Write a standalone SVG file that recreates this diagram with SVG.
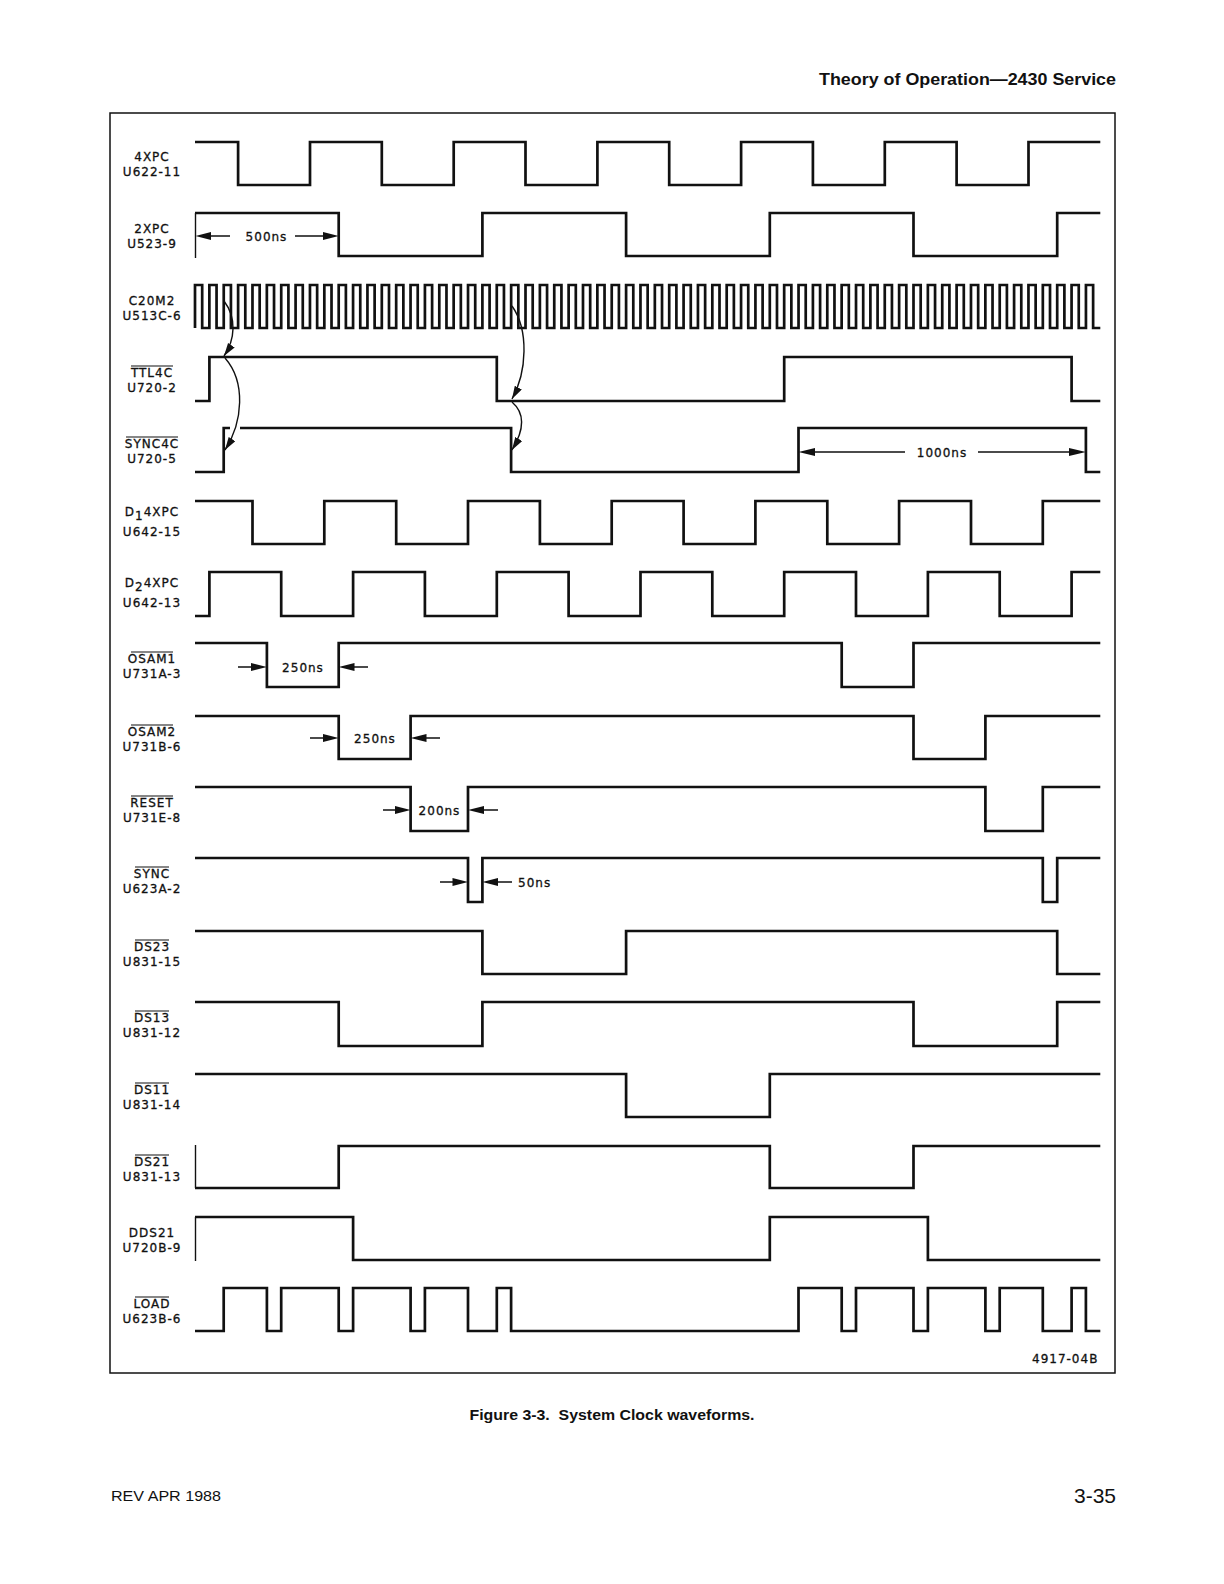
<svg xmlns="http://www.w3.org/2000/svg" width="1224" height="1584" viewBox="0 0 1224 1584">
<style>
.lbl{font-family:"DejaVu Sans","Liberation Sans",sans-serif;font-size:12px;letter-spacing:1px;fill:#111;stroke:#111;stroke-width:0.3;text-anchor:middle}
.dim{font-family:"DejaVu Sans","Liberation Sans",sans-serif;font-size:12px;letter-spacing:1px;fill:#111;stroke:#111;stroke-width:0.3}
.w{fill:none;stroke:#111;stroke-width:2.7;stroke-linejoin:miter;stroke-linecap:butt}
.thin{fill:none;stroke:#111;stroke-width:1.4}
.bar{stroke:#111;stroke-width:1.2}
.ah{fill:#111}
.hdr{font-family:"Liberation Sans",Arial,sans-serif;font-weight:bold;fill:#111}
.ftr{font-family:"Liberation Sans",Arial,sans-serif;fill:#111}
</style>
<defs>
<marker id="curveHead" markerUnits="userSpaceOnUse" markerWidth="14" markerHeight="10" refX="13" refY="4" orient="auto">
<path d="M0,0 L13,4 L0,8 z" fill="#111"/>
</marker>
</defs>
<rect width="1224" height="1584" fill="#fff"/>
<text class="hdr" x="1116" y="85" font-size="17" text-anchor="end" textLength="297" lengthAdjust="spacingAndGlyphs">Theory of Operation—2430 Service</text>
<rect id="frame" x="110" y="113" width="1005" height="1260" fill="none" stroke="#111" stroke-width="1.5"/>

<g id="sig-4XPC">
<text class="lbl" x="152" y="161">4XPC</text><text class="lbl" x="152" y="176">U622-11</text>
<path class="w" d="M195,142 H238.1 V185 H310 V142 H381.8 V185 H453.7 V142 H525.5 V185 H597.4 V142 H669.2 V185 H741.1 V142 H812.9 V185 H884.8 V142 H956.6 V185 H1028.5 V142 H1100.3"/>
</g>
<g id="sig-2XPC">
<text class="lbl" x="152" y="233">2XPC</text><text class="lbl" x="152" y="248">U523-9</text>
<path class="w" d="M195,213 H338.7 V256 H482.4 V213 H626.1 V256 H769.8 V213 H913.5 V256 H1057.2 V213 H1100.3"/>
<path class="thin" d="M195.5,213 V258"/>
</g>
<g id="sig-C20M2">
<text class="lbl" x="152" y="305">C20M2</text><text class="lbl" x="152" y="320">U513C-6</text>
<path class="w" stroke-width="2" d="M195,328
v-43h7.185v43h7.185 v-43h7.185v43h7.185 v-43h7.185v43h7.185 v-43h7.185v43h7.185 v-43h7.185v43h7.185 v-43h7.185v43h7.185 v-43h7.185v43h7.185 v-43h7.185v43h7.185 v-43h7.185v43h7.185
v-43h7.185v43h7.185 v-43h7.185v43h7.185 v-43h7.185v43h7.185 v-43h7.185v43h7.185 v-43h7.185v43h7.185 v-43h7.185v43h7.185 v-43h7.185v43h7.185 v-43h7.185v43h7.185 v-43h7.185v43h7.185
v-43h7.185v43h7.185 v-43h7.185v43h7.185 v-43h7.185v43h7.185 v-43h7.185v43h7.185 v-43h7.185v43h7.185 v-43h7.185v43h7.185 v-43h7.185v43h7.185 v-43h7.185v43h7.185 v-43h7.185v43h7.185
v-43h7.185v43h7.185 v-43h7.185v43h7.185 v-43h7.185v43h7.185 v-43h7.185v43h7.185 v-43h7.185v43h7.185 v-43h7.185v43h7.185 v-43h7.185v43h7.185 v-43h7.185v43h7.185 v-43h7.185v43h7.185
v-43h7.185v43h7.185 v-43h7.185v43h7.185 v-43h7.185v43h7.185 v-43h7.185v43h7.185 v-43h7.185v43h7.185 v-43h7.185v43h7.185 v-43h7.185v43h7.185 v-43h7.185v43h7.185 v-43h7.185v43h7.185
v-43h7.185v43h7.185 v-43h7.185v43h7.185 v-43h7.185v43h7.185 v-43h7.185v43h7.185 v-43h7.185v43h7.185 v-43h7.185v43h7.185 v-43h7.185v43h7.185 v-43h7.185v43h7.185 v-43h7.185v43h7.185
v-43h7.185v43h7.185 v-43h7.185v43h7.185 v-43h7.185v43h7.185 v-43h7.185v43h7.185 v-43h7.185v43h7.185 v-43h7.185v43h7.185 v-43h7.185v43h7.185 v-43h7.185v43h7.185 v-43h7.185v43h7.185"/>
</g>
<g id="sig-TTL4C">
<line class="bar" x1="131" y1="366" x2="173" y2="366"/>
<text class="lbl" x="152" y="377">TTL4C</text><text class="lbl" x="152" y="391.5">U720-2</text>
<path class="w" d="M195,401 H209.4 V357 H496.8 V401 H784.2 V357 H1071.6 V401 H1100.3"/>
</g>
<g id="sig-SYNC4C">
<line class="bar" x1="126" y1="437" x2="178" y2="437"/>
<text class="lbl" x="152" y="448">SYNC4C</text><text class="lbl" x="152" y="462.5">U720-5</text>
<path class="w" d="M195,472 H223.7 V428 H230 M240,428 H511.1 V472 H798.5 V428 H1085.9 V472 H1100.3"/>
</g>
<g id="sig-D14XPC">
<text class="lbl" x="152" y="516">D<tspan dy="4">1</tspan><tspan dy="-4">4XPC</tspan></text><text class="lbl" x="152" y="535.5">U642-15</text>
<path class="w" d="M195,501 H252.5 V544 H324.3 V501 H396.2 V544 H468 V501 H539.9 V544 H611.7 V501 H683.6 V544 H755.4 V501 H827.3 V544 H899.1 V501 H971 V544 H1042.8 V501 H1100.3"/>
</g>
<g id="sig-D24XPC">
<text class="lbl" x="152" y="587">D<tspan dy="4">2</tspan><tspan dy="-4">4XPC</tspan></text><text class="lbl" x="152" y="606.5">U642-13</text>
<path class="w" d="M195,616 H209.4 V572 H281.2 V616 H353.1 V572 H424.9 V616 H496.8 V572 H568.6 V616 H640.5 V572 H712.3 V616 H784.2 V572 H856 V616 H927.9 V572 H999.7 V616 H1071.6 V572 H1100.3"/>
</g>
<g id="sig-OSAM1">
<line class="bar" x1="131" y1="652" x2="173" y2="652"/>
<text class="lbl" x="152" y="663">OSAM1</text><text class="lbl" x="152" y="677.5">U731A-3</text>
<path class="w" d="M195,643 H266.9 V687 H338.7 V643 H841.7 V687 H913.5 V643 H1100.3"/>
</g>
<g id="sig-OSAM2">
<line class="bar" x1="131" y1="725" x2="173" y2="725"/>
<text class="lbl" x="152" y="736">OSAM2</text><text class="lbl" x="152" y="750.5">U731B-6</text>
<path class="w" d="M195,716 H338.7 V759 H410.6 V716 H913.5 V759 H985.4 V716 H1100.3"/>
</g>
<g id="sig-RESET">
<line class="bar" x1="131" y1="796" x2="173" y2="796"/>
<text class="lbl" x="152" y="807">RESET</text><text class="lbl" x="152" y="821.5">U731E-8</text>
<path class="w" d="M195,787 H410.6 V831 H468 V787 H985.4 V831 H1042.8 V787 H1100.3"/>
</g>
<g id="sig-SYNC">
<line class="bar" x1="135" y1="867" x2="169" y2="867"/>
<text class="lbl" x="152" y="878">SYNC</text><text class="lbl" x="152" y="892.5">U623A-2</text>
<path class="w" d="M195,858 H468 V902 H482.4 V858 H1042.8 V902 H1057.2 V858 H1100.3"/>
</g>
<g id="sig-DS23">
<line class="bar" x1="135" y1="940" x2="169" y2="940"/>
<text class="lbl" x="152" y="951">DS23</text><text class="lbl" x="152" y="965.5">U831-15</text>
<path class="w" d="M195,931 H482.4 V974 H626.1 V931 H1057.2 V974 H1100.3"/>
</g>
<g id="sig-DS13">
<line class="bar" x1="135" y1="1011" x2="169" y2="1011"/>
<text class="lbl" x="152" y="1022">DS13</text><text class="lbl" x="152" y="1036.5">U831-12</text>
<path class="w" d="M195,1002 H338.7 V1046 H482.4 V1002 H913.5 V1046 H1057.2 V1002 H1100.3"/>
</g>
<g id="sig-DS11">
<line class="bar" x1="135" y1="1083" x2="169" y2="1083"/>
<text class="lbl" x="152" y="1094">DS11</text><text class="lbl" x="152" y="1108.5">U831-14</text>
<path class="w" d="M195,1074 H626.1 V1117 H769.8 V1074 H1100.3"/>
</g>
<g id="sig-DS21">
<line class="bar" x1="135" y1="1155" x2="169" y2="1155"/>
<text class="lbl" x="152" y="1166">DS21</text><text class="lbl" x="152" y="1180.5">U831-13</text>
<path class="thin" d="M195.5,1145 V1188"/>
<path class="w" d="M195,1188 H338.7 V1146 H769.8 V1188 H913.5 V1146 H1100.3"/>
</g>
<g id="sig-DDS21">
<text class="lbl" x="152" y="1237">DDS21</text><text class="lbl" x="152" y="1251.5">U720B-9</text>
<path class="thin" d="M195.5,1217 V1261"/>
<path class="w" d="M195,1217 H353.1 V1260 H769.8 V1217 H927.9 V1260 H1100.3"/>
</g>
<g id="sig-LOAD">
<line class="bar" x1="135" y1="1297" x2="169" y2="1297"/>
<text class="lbl" x="152" y="1308">LOAD</text><text class="lbl" x="152" y="1322.5">U623B-6</text>
<path class="w" d="M195,1331 H223.7 V1288 H266.9 V1331 H281.2 V1288 H338.7 V1331 H353.1 V1288 H410.6 V1331 H424.9 V1288 H468 V1331 H496.8 V1288 H511.1 V1331 H798.5 V1288 H841.7 V1331 H856 V1288 H913.5 V1331 H927.9 V1288 H985.4 V1331 H999.7 V1288 H1042.8 V1331 H1071.6 V1288 H1085.9 V1331 H1100.3"/>
</g>

<g id="connectors">
<path class="thin" d="M224,301 C237,318 235,340 224,356" marker-end="url(#curveHead)"/>
<path class="thin" d="M225,358 C246,382 243,422 225,450" marker-end="url(#curveHead)"/>
<path class="thin" d="M512,306 C529,330 527,372 512,399" marker-end="url(#curveHead)"/>
<path class="thin" d="M512,402 C526,414 523,432 512,450" marker-end="url(#curveHead)"/>

<g id="dim-500ns">
<path class="thin" d="M209,236 H230 M295,236 H324"/>
<polygon class="ah" points="195.5,236 211,232 211,240"/>
<polygon class="ah" points="338.7,236 323,232 323,240"/>
<text class="dim" x="266.5" y="240.5" text-anchor="middle">500ns</text>
</g>
<g id="dim-1000ns">
<path class="thin" d="M812,452 H905 M978,452 H1072"/>
<polygon class="ah" points="798.5,452 815,448 815,456"/>
<polygon class="ah" points="1085.9,452 1069,448 1069,456"/>
<text class="dim" x="942" y="456.5" text-anchor="middle">1000ns</text>
</g>
<g id="dim-250ns-1">
<path class="thin" d="M238,667 H253 M353,667 H368"/>
<polygon class="ah" points="266.9,667 251,663 251,671"/>
<polygon class="ah" points="338.7,667 354.5,663 354.5,671"/>
<text class="dim" x="303" y="671.5" text-anchor="middle">250ns</text>
</g>
<g id="dim-250ns-2">
<path class="thin" d="M310,738 H325 M425,738 H440"/>
<polygon class="ah" points="338.7,738 323,734 323,742"/>
<polygon class="ah" points="410.6,738 426.5,734 426.5,742"/>
<text class="dim" x="375" y="742.5" text-anchor="middle">250ns</text>
</g>
<g id="dim-200ns">
<path class="thin" d="M383,810 H397 M482,810 H498"/>
<polygon class="ah" points="410.6,810 395,806 395,814"/>
<polygon class="ah" points="468,810 484,806 484,814"/>
<text class="dim" x="439.5" y="814.5" text-anchor="middle">200ns</text>
</g>
<g id="dim-50ns">
<path class="thin" d="M440,882 H455 M496,882 H512"/>
<polygon class="ah" points="468,882 452.5,878 452.5,886"/>
<polygon class="ah" points="482.4,882 498,878 498,886"/>
<text class="dim" x="518" y="886.5">50ns</text>
</g>
</g>

<text class="dim" x="1032" y="1363">4917-04B</text>
<text class="hdr" x="612" y="1420" font-size="15.5" text-anchor="middle" textLength="285" lengthAdjust="spacingAndGlyphs">Figure 3-3.&#160; System Clock waveforms.</text>
<text class="ftr" x="111" y="1501" font-size="15.5" textLength="110" lengthAdjust="spacingAndGlyphs">REV APR 1988</text>
<text class="ftr" x="1116" y="1503" font-size="21" text-anchor="end">3-35</text>
</svg>
